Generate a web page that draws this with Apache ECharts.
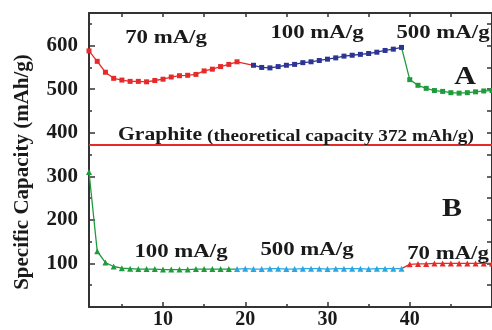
<!DOCTYPE html>
<html>
<head>
<meta charset="utf-8">
<script src="https://cdn.jsdelivr.net/npm/echarts@6/dist/echarts.min.js"></script>
<style>
  html, body { margin: 0; padding: 0; background: #fff; }
  #main { width: 492px; height: 330px; }
</style>
</head>
<body>
<div id="main"></div>
<script>
// sample A (squares): 70 mA/g from cycle 1, 100 mA/g from 21, 500 mA/g from 40
var aRed70 = [588, 564, 539, 525, 521, 518, 518, 517, 520, 523, 528, 531, 532, 534, 542, 546, 552, 557, 563];
var aBlue100 = [555, 550, 549, 552, 555, 557, 561, 563, 566, 569, 572, 576, 578, 580, 582, 585, 589, 592, 596];
var aGreen500 = [522, 509, 502, 497, 495, 492, 491, 492, 494, 496, 497];
// sample B (triangles): 100 mA/g from cycle 1, 500 mA/g from 19, 70 mA/g from 40
var bGreen100 = [310, 128, 102, 93, 89, 88, 87, 87, 87, 86, 86, 86, 86, 87, 87, 87, 87, 87];
var bCyan500 = [87, 88, 87, 87, 88, 88, 87, 87, 88, 88, 88, 87, 88, 88, 88, 88, 87, 88, 88, 88, 88];
var bRed70 = [98, 99, 99, 100, 100, 100, 100, 100, 100, 100, 100];
var graphite = 372;

var xLabels = [10, 20, 30, 40];
var xMinor = [5, 15, 25, 35, 45];
var yLabels = [100, 200, 300, 400, 500, 600];
var yMinor = [50, 150, 250, 350, 450, 550, 650];

var RED = '#e62a2a', NAVY = '#2c3494', GREEN = '#1f9b3e', CYAN = '#2ba6e0';
var serif = '"Liberation Serif", "DejaVu Serif", serif';
var axisCol = '#333';

function pts(start, vals) {
    return vals.map(function (v, i) { return [start + i, v]; });
}
function link(x, y) {
    return { value: [x, y], symbol: 'none' };
}

var myChart = echarts.init(document.getElementById('main'));

function xAx(pos, ticks, len, line, labels) {
    return {
        type: 'value', min: 1, max: 50, position: pos,
        axisLine: { show: line, onZero: false, lineStyle: { color: axisCol, width: 2 } },
        axisTick: { show: true, inside: true, length: len, customValues: ticks, lineStyle: { color: axisCol, width: 1.5 } },
        axisLabel: labels ? { customValues: labels, margin: 3, color: '#1a1a1a', fontFamily: serif, fontWeight: 'bold', fontSize: 20 } : { show: false },
        splitLine: { show: false }
    };
}
function yAx(pos, ticks, len, line, labels) {
    return {
        type: 'value', min: 0, max: 675, position: pos,
        axisLine: { show: line, onZero: false, lineStyle: { color: axisCol, width: 2 } },
        axisTick: { show: true, inside: true, length: len, customValues: ticks, lineStyle: { color: axisCol, width: 1.5 } },
        axisLabel: labels ? { customValues: labels, margin: 11, color: '#1a1a1a', fontFamily: serif, fontWeight: 'bold', fontSize: 21 } : { show: false },
        splitLine: { show: false }
    };
}

function txt(s, x, y, size, align) {
    return {
        type: 'text', x: x, y: y, scaleX: 1.2, z: 100,
        style: { text: s, fontFamily: serif, fontWeight: 'bold', fontSize: size, fill: '#1a1a1a',
                 textAlign: align || 'center', textVerticalAlign: 'middle' }
    };
}

var option = {
    animation: false,
    grid: { left: 89, top: 13, width: 406, height: 303 },
    xAxis: [
        xAx('bottom', xLabels, 5, true, xLabels),
        xAx('bottom', xMinor, 3, false, null),
        xAx('top', xLabels.concat(xMinor), 4, true, null)
    ],
    yAxis: [
        yAx('left', yLabels, 6, true, yLabels),
        yAx('left', yMinor, 3, false, null),
        yAx('right', yLabels.concat(yMinor), 5, true, null)
    ],
    series: [
        {
            name: 'A 70', type: 'line', symbol: 'rect', symbolSize: 5,
            lineStyle: { color: RED, width: 1.3 }, itemStyle: { color: RED },
            data: pts(1, aRed70).concat([link(21, aBlue100[0])]),
            markLine: {
                silent: true, symbol: 'none', label: { show: false },
                lineStyle: { color: RED, width: 2, type: 'solid' },
                data: [{ yAxis: graphite }]
            }
        },
        {
            name: 'A 100', type: 'line', symbol: 'rect', symbolSize: 5,
            lineStyle: { color: NAVY, width: 1.3 }, itemStyle: { color: NAVY },
            data: pts(21, aBlue100)
        },
        {
            name: 'A 500', type: 'line', symbol: 'rect', symbolSize: 5,
            lineStyle: { color: GREEN, width: 1.3 }, itemStyle: { color: GREEN },
            data: [link(39, aBlue100[aBlue100.length - 1])].concat(pts(40, aGreen500))
        },
        {
            name: 'B 100', type: 'line', symbol: 'triangle', symbolSize: 6,
            lineStyle: { color: GREEN, width: 1.3 }, itemStyle: { color: GREEN },
            data: pts(1, bGreen100).concat([link(19, bCyan500[0])])
        },
        {
            name: 'B 500', type: 'line', symbol: 'triangle', symbolSize: 6,
            lineStyle: { color: CYAN, width: 1.3 }, itemStyle: { color: CYAN },
            data: pts(19, bCyan500)
        },
        {
            name: 'B 70', type: 'line', symbol: 'triangle', symbolSize: 6,
            lineStyle: { color: RED, width: 1.3 }, itemStyle: { color: RED },
            data: [link(39, bCyan500[bCyan500.length - 1])].concat(pts(40, bRed70))
        }
    ],
    graphic: [
        {
            type: 'text', x: 23, y: 172, rotation: Math.PI / 2, z: 100,
            style: { text: 'Specific Capacity (mAh/g)', fontFamily: serif, fontWeight: 'bold', fontSize: 21,
                     fill: '#1a1a1a', textAlign: 'center', textVerticalAlign: 'middle' }
        },
        txt('70 mA/g', 166, 38, 19),
        txt('100 mA/g', 317, 33, 19),
        txt('500 mA/g', 443, 33, 19),
        txt('A', 465, 78, 25),
        txt('Graphite', 118, 135, 18, 'left'),
        txt('(theoretical capacity 372 mAh/g)', 207, 137, 16, 'left'),
        txt('B', 452, 210, 25),
        txt('100 mA/g', 181, 252, 19),
        txt('500 mA/g', 307, 250, 19),
        txt('70 mA/g', 448, 254, 19)
    ]
};

myChart.setOption(option);
</script>
</body>
</html>
